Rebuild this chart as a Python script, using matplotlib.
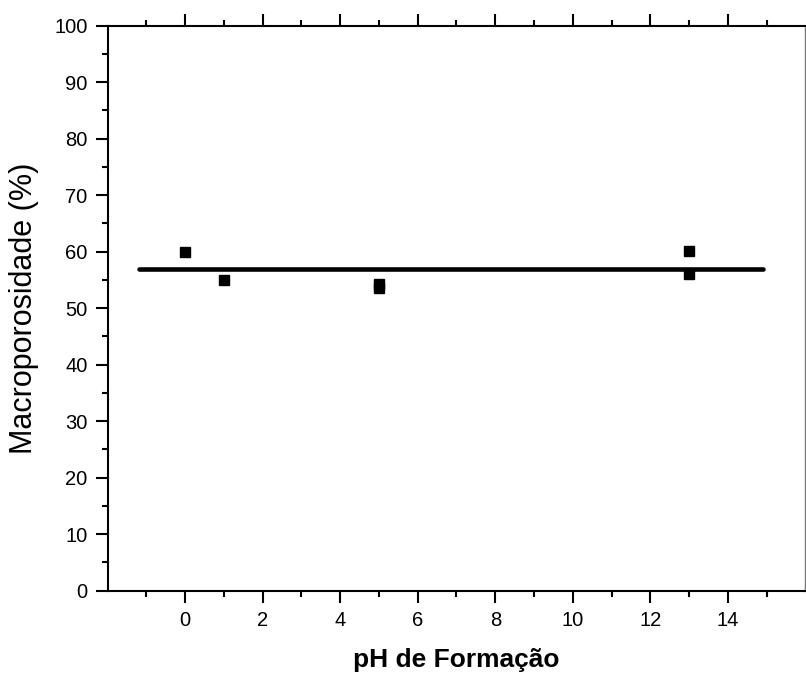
import matplotlib
matplotlib.use("Agg")
import matplotlib.pyplot as plt
from matplotlib.ticker import MultipleLocator, FixedLocator

plt.rcParams['font.family'] = ['Liberation Sans', 'DejaVu Sans']

ph = [0, 1, 5, 5, 13, 13]
macro = [60.0, 55.0, 54.2, 53.6, 60.1, 56.0]
fit_x = [-1.2, 14.9]
fit_y = [56.85, 56.85]
x_major = [0, 2, 4, 6, 8, 10, 12, 14]
x_minor = [-1, 1, 3, 5, 7, 9, 11, 13, 15]

fig = plt.figure(figsize=(8.06, 6.75), dpi=100)
ax = fig.add_axes([107.7/806, 1-590.7/675, (805.3-107.7)/806, (590.7-25.7)/675])

ax.plot(fit_x, fit_y, color='black', lw=3.3, solid_capstyle='round', zorder=2)
ax.plot(ph, macro, linestyle='none', marker='s', color='black', markersize=7.6, zorder=3)

ax.set_xlim(-2, 16)
ax.set_ylim(0, 100)
ax.xaxis.set_major_locator(FixedLocator(x_major))
ax.xaxis.set_minor_locator(FixedLocator(x_minor))
ax.yaxis.set_major_locator(MultipleLocator(10))
ax.yaxis.set_minor_locator(MultipleLocator(5))

for s in ['left', 'bottom', 'top']:
    ax.spines[s].set_linewidth(1.5)
ax.spines['right'].set_linewidth(1.0)
ax.spines['right'].set_color('#777777')

ax.tick_params(axis='both', which='major', direction='out', length=8.5, width=1.5, labelsize=14.5, pad=6)
ax.tick_params(axis='both', which='minor', direction='out', length=4.5, width=1.5)
ax.tick_params(axis='x', which='both', top=True, labeltop=False)
ax.tick_params(axis='y', which='both', right=False)

ax.set_xlabel('pH de Formação', fontsize=19, fontweight='bold', labelpad=13)
ax.set_ylabel('Macroporosidade (%)', fontsize=22, labelpad=11)

fig.savefig('out.png', dpi=100)
